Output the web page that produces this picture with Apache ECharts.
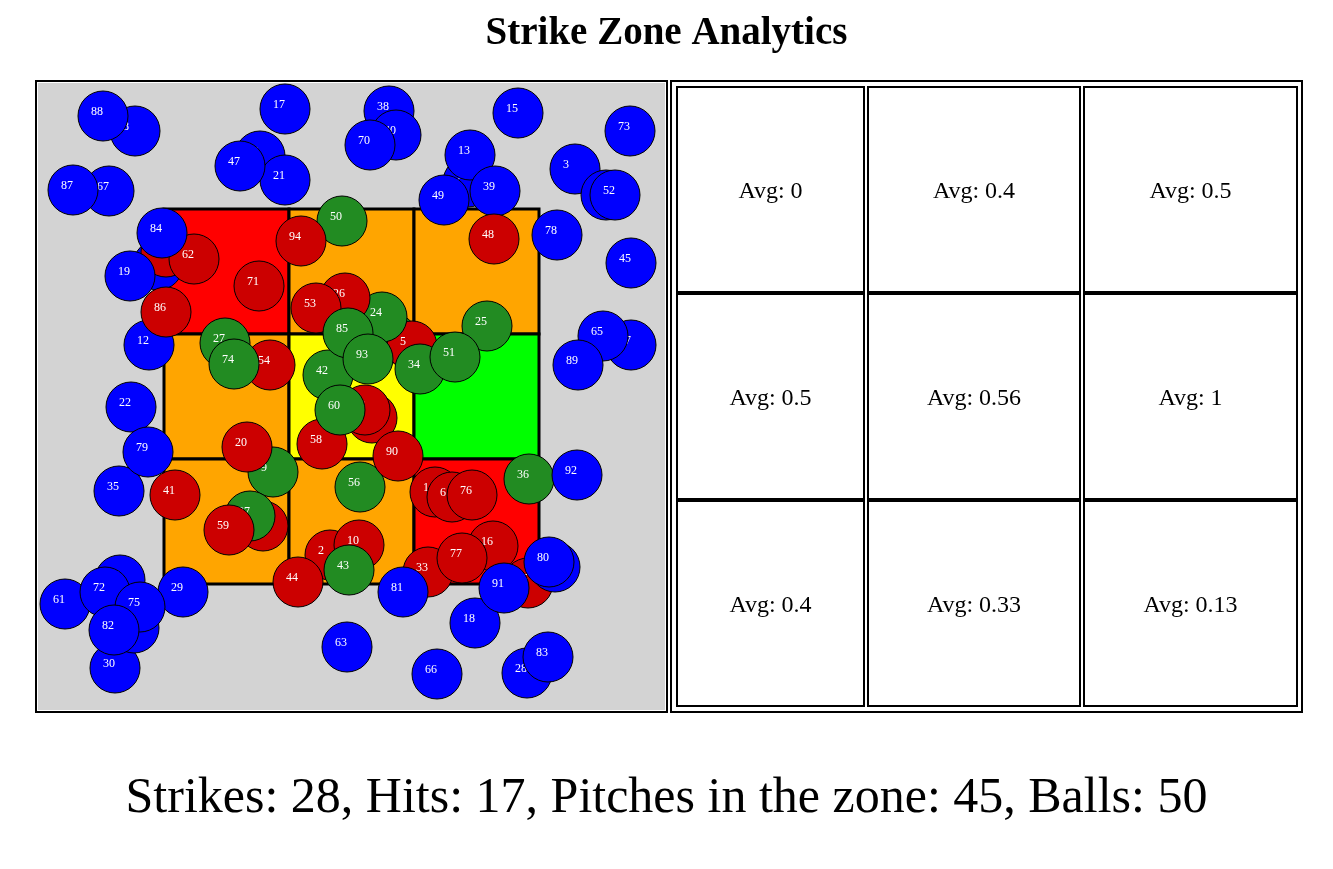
<!DOCTYPE html>
<html>
<head>
<meta charset="utf-8">
<title>Strike Zone Analytics</title>
<script src="https://cdn.jsdelivr.net/npm/echarts@6.0.0/dist/echarts.min.js"></script>
<style>
    body { margin: 0; background: #fff; }
    #chart { width: 1333px; height: 869px; }
</style>
</head>
<body>
<div id="chart"></div>
<script>
// pitch number = index in these arrays, position in svg px of the zone panel
var pitchX = [119, 396, 291, 536, 353, 373, 413, 429, 96, 234,
    320, 221, 110, 431, 127, 479, 454, 246, 436, 91,
    208, 246, 92, 224, 343, 448, 306, 186, 488, 144,
    76, 567, 333, 389, 381, 80, 490, 211, 350, 456,
    357, 136, 289, 310, 259, 592, 326, 201, 455, 405,
    303, 416, 576, 277, 231, 489, 321, 592, 283, 190,
    301, 26, 155, 308, 81, 564, 398, 70, 95, 516,
    331, 220, 66, 591, 195, 101, 433, 423, 518, 109,
    510, 364, 75, 509, 123, 309, 127, 34, 64, 539,
    359, 465, 538, 329, 262];
var pitchY = [181, 408, 471, 85, 254, 262, 413, 98, 47, 388,
    461, 72, 261, 71, 168, 29, 462, 25, 539, 192,
    363, 96, 323, 442, 233, 242, 214, 259, 589, 508,
    584, 111, 334, 488, 285, 407, 395, 432, 27, 107,
    51, 411, 291, 486, 498, 179, 326, 82, 155, 116,
    137, 273, 111, 224, 281, 499, 403, 261, 360, 446,
    326, 520, 175, 563, 496, 252, 590, 107, 544, 483,
    61, 202, 508, 47, 280, 523, 411, 474, 151, 368,
    478, 508, 546, 573, 149, 249, 228, 106, 32, 281,
    372, 504, 391, 275, 157];
// B = ball, S = strike, H = hit
var pitchResult = ['B', 'S', 'S', 'B', 'H', 'S', 'S', 'B', 'B', 'H',
    'S', 'B', 'B', 'B', 'S', 'B', 'S', 'B', 'B', 'B',
    'S', 'B', 'B', 'S', 'H', 'H', 'S', 'H', 'B', 'B',
    'B', 'B', 'S', 'S', 'H', 'B', 'H', 'H', 'B', 'B',
    'B', 'S', 'H', 'H', 'S', 'B', 'S', 'B', 'S', 'B',
    'H', 'H', 'B', 'S', 'S', 'S', 'H', 'B', 'S', 'S',
    'H', 'B', 'S', 'B', 'B', 'B', 'B', 'B', 'B', 'B',
    'B', 'S', 'B', 'B', 'H', 'B', 'S', 'S', 'B', 'B',
    'B', 'B', 'B', 'B', 'B', 'H', 'S', 'B', 'B', 'B',
    'S', 'B', 'B', 'H', 'S'];

// batting average per zone cell, row by row from the top
var zoneAvg = [0, 0.4, 0.5,
    0.5, 0.56, 1,
    0.4, 0.33, 0.13];

var resultColors = {B: '#0000ff', S: '#cc0000', H: '#228b22'};
var serif = '"Liberation Serif", "Times New Roman", serif';

// zone layout (svg px)
var zoneLeft = 125, zoneTop = 125, zoneCell = 125;
// table layout (px inside the right frame)
var tableColLeft = [6, 197, 413];
var tableColWidth = [189, 214, 215];
var tableRowTop = [6, 213, 420];
var tableRowHeight = 207;

function zoneColor(avg) {
    if (avg < 0.2) return '#ff0000';
    if (avg < 0.55) return '#ffa500';
    if (avg < 0.8) return '#ffff00';
    return '#00ff00';
}

var pitchData = [];
for (var i = 0; i < pitchX.length; i++) {
    pitchData.push([pitchX[i], pitchY[i]]);
}
var zoneData = [];
for (var k = 0; k < zoneAvg.length; k++) {
    zoneData.push([k % 3, Math.floor(k / 3), zoneAvg[k]]);
}

var strikes = 0, hits = 0, balls = 0;
pitchResult.forEach(function (r) {
    if (r == 'S') strikes++;
    else if (r == 'H') hits++;
    else balls++;
});
var statsText = 'Strikes: ' + strikes + ', Hits: ' + hits +
    ', Pitches in the zone: ' + (strikes + hits) + ', Balls: ' + balls;

function renderZone(params, api) {
    var col = api.value(0), row = api.value(1);
    var tl = api.coord([zoneLeft + col * zoneCell, zoneTop + row * zoneCell]);
    var size = api.size([zoneCell, zoneCell]);
    return {
        type: 'rect',
        shape: {x: tl[0], y: tl[1], width: size[0], height: size[1]},
        style: {fill: zoneColor(api.value(2)), stroke: '#000', lineWidth: 3}
    };
}

function renderPitch(params, api) {
    var p = api.coord([api.value(0), api.value(1)]);
    var r = pitchResult[params.dataIndex];
    return {
        type: 'group',
        children: [
            {
                type: 'circle',
                shape: {cx: p[0], cy: p[1], r: 25},
                style: {fill: resultColors[r], stroke: '#000', lineWidth: 1}
            },
            {
                type: 'text',
                x: p[0] - 12,
                y: p[1] - 4,
                style: {
                    text: String(params.dataIndex),
                    fill: '#fff',
                    font: '12px ' + serif,
                    align: 'left',
                    verticalAlign: 'middle'
                }
            }
        ]
    };
}

function renderCell(params, api) {
    var col = api.value(0), row = api.value(1);
    var tl = api.coord([tableColLeft[col], tableRowTop[row]]);
    var size = api.size([tableColWidth[col], tableRowHeight]);
    return {
        type: 'group',
        children: [
            {
                type: 'rect',
                shape: {x: tl[0] + 1, y: tl[1] + 1, width: size[0] - 2, height: size[1] - 2},
                style: {fill: '#fff', stroke: '#000', lineWidth: 2}
            },
            {
                type: 'text',
                x: tl[0] + size[0] / 2,
                y: tl[1] + size[1] / 2 + 2,
                style: {
                    text: 'Avg: ' + zoneAvg[params.dataIndex],
                    fill: '#000',
                    font: '24px ' + serif,
                    align: 'center',
                    verticalAlign: 'middle'
                }
            }
        ]
    };
}

var option = {
    animation: false,
    title: [
        {
            text: 'Strike Zone Analytics',
            left: 'center',
            top: 9,
            textStyle: {fontFamily: serif, fontSize: 39, fontWeight: 'bold', color: '#000'}
        },
        {
            text: statsText,
            left: 'center',
            top: 769,
            textStyle: {fontFamily: serif, fontSize: 50, fontWeight: 'normal', color: '#000'}
        }
    ],
    graphic: [
        {type: 'rect', shape: {x: 38, y: 83, width: 627, height: 627}, style: {fill: '#d3d3d3'}},
        {type: 'rect', shape: {x: 36, y: 81, width: 631, height: 631}, style: {fill: 'none', stroke: '#000', lineWidth: 2}},
        {type: 'rect', shape: {x: 671, y: 81, width: 631, height: 631}, style: {fill: 'none', stroke: '#000', lineWidth: 2}}
    ],
    grid: [
        {left: 39, top: 84, width: 625, height: 625},
        {left: 670, top: 80, width: 633, height: 633}
    ],
    xAxis: [
        {type: 'value', gridIndex: 0, min: 0, max: 625, show: false},
        {type: 'value', gridIndex: 1, min: 0, max: 633, show: false}
    ],
    yAxis: [
        {type: 'value', gridIndex: 0, min: 0, max: 625, inverse: true, show: false},
        {type: 'value', gridIndex: 1, min: 0, max: 633, inverse: true, show: false}
    ],
    series: [
        {
            type: 'custom',
            xAxisIndex: 0,
            yAxisIndex: 0,
            z: 2,
            silent: true,
            renderItem: renderZone,
            data: zoneData
        },
        {
            type: 'custom',
            xAxisIndex: 0,
            yAxisIndex: 0,
            z: 3,
            silent: true,
            renderItem: renderPitch,
            data: pitchData
        },
        {
            type: 'custom',
            xAxisIndex: 1,
            yAxisIndex: 1,
            z: 2,
            silent: true,
            renderItem: renderCell,
            data: zoneData
        }
    ]
};

var chart = echarts.init(document.getElementById('chart'));
chart.setOption(option);
</script>
</body>
</html>
